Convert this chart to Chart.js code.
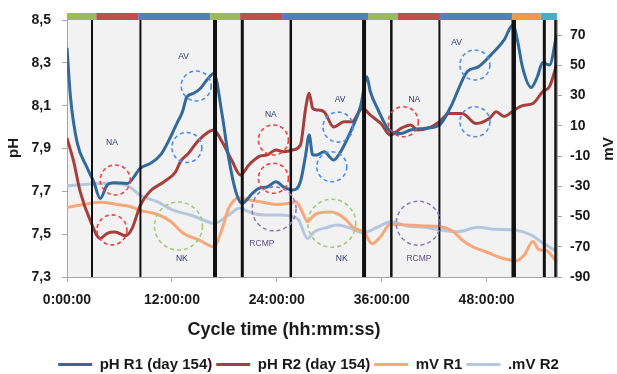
<!DOCTYPE html>
<html><head><meta charset="utf-8">
<script src="https://cdn.jsdelivr.net/npm/chart.js@4.4.0/dist/chart.umd.min.js"></script>
<style>html,body{margin:0;padding:0;background:#fff}#wrap{width:617px;height:374px}</style>
</head><body><div id="wrap"><canvas id="c" width="617" height="374"></canvas></div>
<script>
// ---- data (hours since cycle start) ----
const seriesLabels = ['pH R1 (day 154)', 'pH R2 (day 154)', 'mV R1', '.mV R2'];

const r1Hours = [0,0.4,1.15,2.3,3.05,3.8,4.6,5.3,6.9,8.4,9.5,10.7,11.8,12.6,13.2,13.7,14.5,15.25,16.0,16.8,17.75,18.5,19.3,20.0,21.2,21.95,22.9,23.9,24.8,25.8,26.7,27.3,27.7,28.1,28.6,29.4,30.5,31.3,32.45,33.6,34.3,34.7,35.5,37.0,38.2,39.3,40.85,42.6,43.9,45.8,47.0,48.5,50.0,51.0,51.5,52.1,53.1,53.8,54.4,55.2,56.0];
const r1pH = [8.37,8.14,7.93,7.81,7.745,7.667,7.73,7.74,7.737,7.808,7.83,7.87,7.95,8.02,8.07,8.14,8.158,8.18,8.22,8.25,8.056,7.854,7.70,7.644,7.69,7.714,7.72,7.745,7.72,7.706,7.745,7.87,7.963,7.87,7.87,7.885,7.846,7.885,7.98,8.10,8.235,8.165,8.088,7.98,7.97,7.986,7.994,8.01,8.095,8.26,8.28,8.337,8.407,8.477,8.41,8.28,8.185,8.235,8.30,8.29,8.43];

const r2Hours = [0,0.76,1.5,2.7,3.8,4.6,5.5,6.7,7.45,8.4,9.5,11.1,12.4,13.0,13.9,15.1,16.8,17.75,18.9,19.85,20.8,21.95,22.9,23.9,24.8,25.8,26.7,27.3,27.7,28.1,28.6,29.4,30.5,31.7,32.6,33.8,34.7,35.9,37.0,38.2,39.3,40.1,41.6,42.6,43.7,45.2,46.8,48.3,49.1,50.0,51.2,52.1,53.3,54.4,55.2,56.0];
const r2pH = [7.948,7.84,7.70,7.56,7.48,7.504,7.51,7.493,7.527,7.636,7.70,7.745,7.79,7.84,7.878,7.94,7.986,7.93,7.84,7.776,7.823,7.862,7.87,7.893,7.885,7.893,7.916,8.088,8.158,8.088,8.08,8.072,8.0,8.025,8.025,8.088,8.056,8.017,7.963,7.994,8.01,7.986,8.0,8.025,8.064,8.064,8.017,8.04,8.072,8.05,8.08,8.10,8.11,8.165,8.19,8.29];

const mv1Hours = [0,1.9,3.8,5.7,7.3,8.4,10.3,11.8,13.3,15.1,16.8,17.75,18.5,19.7,20.8,22.3,23.9,25.4,26.2,26.9,27.5,28.1,28.6,30.2,31.7,32.85,34.0,34.9,35.9,37.0,38.9,40.85,42.8,44.2,45.2,46.4,47.9,49.8,51.4,52.3,53.3,54.0,54.8,56.0];
const mv1 = [-44,-42,-40.5,-42,-43.5,-46,-48.5,-53,-61,-65.5,-70,-58,-44.5,-37.5,-39,-40.5,-42,-41.2,-40.2,-46.8,-53.5,-50,-48,-47,-51,-57.8,-60.5,-68,-63,-55,-55.6,-56.2,-56.7,-60,-65.5,-70,-73.3,-77.6,-79.2,-75.4,-66.6,-72,-72.5,-80];

const mv2Hours = [0,2.3,4.6,6.9,8.4,10.3,12.2,14.1,15.6,16.8,18.5,19.7,21.2,22.7,24.2,25.8,26.5,27.5,28.3,29.8,30.9,32.45,33.8,35.5,37.0,38.9,40.85,42.8,44.7,47.0,48.9,51.2,53.1,54.2,56.0];
const mv2 = [-29.8,-28.6,-28,-29.6,-36,-40.2,-46,-49,-52.3,-54.5,-49,-44.5,-47.8,-49,-49,-50,-52.3,-64.5,-60,-57.1,-55.6,-57.8,-60.7,-57.1,-53.4,-56.2,-57.1,-58.9,-60,-57.1,-58.4,-58.9,-62.2,-66.6,-73];

// axis ticks
const xTickHours = [0,12,24,36,48];
const xTickLabels = ['0:00:00','12:00:00','24:00:00','36:00:00','48:00:00'];
const phTicks = [7.3,7.5,7.7,7.9,8.1,8.3,8.5];
const mvTicks = [-90,-70,-50,-30,-10,10,30,50,70];

// phase bar segments along the top (start hour, end hour, phase colour)
const phaseStart = [0,3.35,8.15,16.38,19.8,24.6,34.43,37.86,42.66,50.9,54.2];
const phaseEnd   = [3.35,8.15,16.38,19.8,24.6,34.43,37.86,42.66,50.9,54.2,56.05];
const phaseColor = ['#9bbb59','#c0504d','#4f81bd','#9bbb59','#c0504d','#4f81bd','#9bbb59','#c0504d','#4f81bd','#f79646','#4bacc6'];

// vertical event markers (hour)
const markerHours = [2.86,8.4,16.93,20.05,25.6,33.98,37.1,42.6,51.1,54.6,55.88];
const markerWidth = [2,2,4,3,2.5,4,2.5,2,4.5,3,2.5];

// annotation circles (hour, pH, kind)
const circHours = [5.52,5.14,14.78,13.71,12.75,23.61,23.61,23.69,31.0,30.29,30.29,38.47,40.18,46.66,46.66];
const circPH    = [7.753,7.52,8.192,7.905,7.538,7.94,7.761,7.618,8.0,7.815,7.551,8.025,7.551,8.29,8.025];
const circKind  = ['NA','NA','AV','AV','NK','NA','NA','RCMP','AV','AV','NK','NA','RCMP','AV','AV'];
// annotation labels
const noteText  = ['NA','AV','NK','NA','RCMP','AV','NA','NK','RCMP','AV'];
const noteHours = [5.14,13.33,13.14,23.31,22.29,31.23,39.73,31.43,40.26,44.57];
const notePH    = [7.927,8.329,7.387,8.06,7.458,8.127,8.127,7.387,7.387,8.394];

const kindStyle = {NA:{c:'#f0403c',r:15}, AV:{c:'#4a8ff0',r:15}, NK:{c:'#a9c97a',r:24}, RCMP:{c:'#8f7cc0',r:22}};

const pts = (xs, ys) => xs.map((x,i)=>({x:x, y:ys[i]}));
const FONT = "'Liberation Sans', Arial, sans-serif";

const decor = {
  id: 'decor',
  beforeDraw(chart) {
    const {ctx, chartArea:a} = chart;
    ctx.save();
    ctx.fillStyle = '#f2f2f2';
    ctx.fillRect(a.left, a.top, a.right - a.left, a.bottom - a.top);
    ctx.restore();
  },
  afterDatasetsDraw(chart) {
    const {ctx, chartArea:a, scales} = chart;
    const xs = scales.x, ys = scales.y;
    ctx.save();
    markerHours.forEach((h,i)=>{
      const x = xs.getPixelForValue(h);
      ctx.strokeStyle = '#111';
      ctx.lineWidth = markerWidth[i];
      ctx.beginPath(); ctx.moveTo(x, a.top); ctx.lineTo(x, a.bottom); ctx.stroke();
    });
    phaseStart.forEach((s,i)=>{
      const x0 = xs.getPixelForValue(s), x1 = xs.getPixelForValue(phaseEnd[i]);
      ctx.fillStyle = phaseColor[i];
      ctx.fillRect(x0, a.top - 7, x1 - x0, 7);
    });
    ctx.setLineDash([4,3]);
    ctx.lineWidth = 1.6;
    circHours.forEach((h,i)=>{
      const st = kindStyle[circKind[i]];
      ctx.strokeStyle = st.c;
      ctx.beginPath();
      ctx.arc(xs.getPixelForValue(h), ys.getPixelForValue(circPH[i]), st.r, 0, Math.PI*2);
      ctx.stroke();
    });
    ctx.setLineDash([]);
    ctx.font = '8.5px ' + FONT;
    ctx.textAlign = 'center'; ctx.textBaseline = 'middle';
    noteText.forEach((t,i)=>{
      ctx.fillStyle = t === 'RCMP' ? '#5d4f86' : '#2b3a67';
      ctx.fillText(t, xs.getPixelForValue(noteHours[i]), ys.getPixelForValue(notePH[i]));
    });
    ctx.restore();
  },
  afterDraw(chart) {
    const {ctx} = chart;
    ctx.save();
    ctx.fillStyle = '#1a1a1a';
    ctx.textAlign = 'center'; ctx.textBaseline = 'middle';
    ctx.font = 'bold 18px ' + FONT;
    ctx.fillText('Cycle time (hh:mm:ss)', 284, 330);
    ctx.font = 'bold 15px ' + FONT;
    ctx.translate(13.5, 148); ctx.rotate(-Math.PI/2); ctx.fillText('pH', 0, 0);
    ctx.setTransform(1,0,0,1,0,0);
    ctx.translate(609, 149); ctx.rotate(-Math.PI/2); ctx.fillText('mV', 0, 0);
    ctx.restore();
  }
};

const lineDs = (label, data, color, axis) => ({
  label, data, yAxisID: axis, borderColor: color, backgroundColor: color,
  borderWidth: 3, pointRadius: 0, fill: false, cubicInterpolationMode: 'monotone'
});

const tickFont = {family: FONT, size: 14, weight: 'bold'};
const axisGrey = '#a6a6a6';
const PAD_BOTTOM = -8;

new Chart(document.getElementById('c'), {
  type: 'line',
  data: {
    datasets: [
      lineDs(seriesLabels[0], pts(r1Hours, r1pH), '#33699b', 'y'),
      lineDs(seriesLabels[1], pts(r2Hours, r2pH), '#a53f3c', 'y'),
      lineDs(seriesLabels[2], pts(mv1Hours, mv1), '#f8a779', 'y2'),
      lineDs(seriesLabels[3], pts(mv2Hours, mv2), '#b5c7df', 'y2')
    ]
  },
  options: {
    responsive: false, animation: false, devicePixelRatio: 1,
    layout: {padding: {top: 20, left: 0, right: 0, bottom: PAD_BOTTOM}},
    plugins: {
      tooltip: {enabled: false},
      legend: {
        position: 'bottom',
        labels: {
          boxWidth: 34, boxHeight: 3, padding: 4, color: '#1a1a1a',
          font: {family: FONT, size: 15, weight: 'bold'},
          generateLabels: (chart) => chart.data.datasets.map((ds,i)=>({
            text: ds.label, fillStyle: ds.borderColor, strokeStyle: ds.borderColor,
            lineWidth: 0, hidden: false, datasetIndex: i, fontColor: '#1a1a1a'
          }))
        }
      }
    },
    scales: {
      x: {
        type: 'linear', position: 'bottom', min: 0, max: 56.05,
        afterBuildTicks: s => { s.ticks = xTickHours.map(v=>({value:v})); },
        afterFit: s => { s.height = 374 - PAD_BOTTOM - 277 - s.chart.legend.height; },
        ticks: {autoSkip: false, maxRotation: 0, padding: 10, color: '#1a1a1a', font: tickFont,
          callback: (v, i) => xTickLabels[i]},
        grid: {drawOnChartArea: false, drawTicks: true, tickLength: 5, color: axisGrey},
        border: {color: axisGrey, width: 1}
      },
      y: {
        position: 'left', min: 7.3, max: 8.5,
        afterBuildTicks: s => { s.ticks = phTicks.map(v=>({value:v})); },
        afterFit: s => { s.width = 67; },
        ticks: {padding: 11, color: '#1a1a1a', font: tickFont,
          callback: v => v.toFixed(1).replace('.', ',')},
        grid: {drawOnChartArea: false, drawTicks: true, tickLength: 5, color: axisGrey},
        border: {color: axisGrey, width: 1}
      },
      y2: {
        position: 'right', min: -90, max: 80,
        afterBuildTicks: s => { s.ticks = mvTicks.map(v=>({value:v})); },
        afterFit: s => { s.width = 60; },
        ticks: {padding: 8, color: '#1a1a1a', font: tickFont, callback: v => String(v)},
        grid: {drawOnChartArea: false, drawTicks: true, tickLength: 5, color: axisGrey},
        border: {color: axisGrey, width: 1}
      }
    }
  },
  plugins: [decor]
});
</script>
</body></html>
